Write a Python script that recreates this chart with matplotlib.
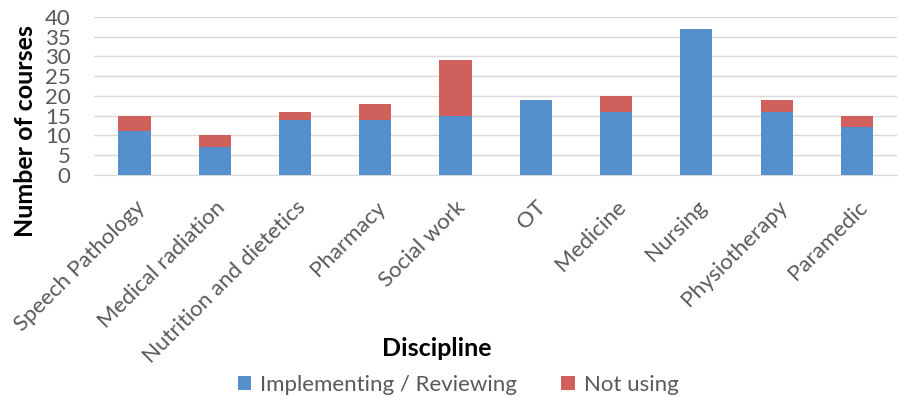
import numpy as np
import matplotlib
matplotlib.use("Agg")
import matplotlib.pyplot as plt

disciplines = ["Speech Pathology", "Medical radiation", "Nutrition and dietetics",
               "Pharmacy", "Social work", "OT", "Medicine", "Nursing",
               "Physiotherapy", "Paramedic"]
implementing = [11, 7, 14, 14, 15, 19, 16, 37, 16, 12]
not_using = [4, 3, 2, 4, 14, 0, 4, 0, 3, 3]
y_ticks = [0, 5, 10, 15, 20, 25, 30, 35, 40]

plt.rcParams["font.family"] = ["Lato", "DejaVu Sans"]

blue = "#5590CD"
red = "#D0605C"
grey = "#595959"

fig = plt.figure(figsize=(9.07, 4.01), dpi=100)
ax = fig.add_axes([0.104, 0.564, 0.885, 0.394])

x = np.arange(len(disciplines))
ax.bar(x, implementing, width=0.4, color=blue, label="Implementing / Reviewing", zorder=3)
ax.bar(x, not_using, width=0.4, bottom=implementing, color=red, label="Not using", zorder=3)

ax.set_xlim(-0.5, len(disciplines) - 0.5)
ax.set_ylim(0, 40)
ax.set_yticks(y_ticks)
ax.tick_params(axis="y", labelsize=16, labelcolor=grey, length=0, pad=17)
ax.set_xticks(x)
ax.set_xticklabels(disciplines, rotation=45, ha="right", rotation_mode="anchor",
                   fontsize=16, color=grey)
ax.tick_params(axis="x", length=0, pad=16)

ax.grid(axis="y", color="#D9D9D9", linewidth=1, zorder=0)
for side in ["top", "right", "left"]:
    ax.spines[side].set_visible(False)
ax.spines["bottom"].set_color("#D9D9D9")

ax.set_ylabel("Number of courses", fontsize=18, fontweight="bold")
ax.yaxis.set_label_coords(-0.071, 0.28)
fig.text(0.482, 0.132, "Discipline", fontsize=18, fontweight="bold", ha="center", va="center")

handles, labels = ax.get_legend_handles_labels()
fig.legend(handles, labels, loc="center", bbox_to_anchor=(0.505, 0.04), ncol=2,
           frameon=False, fontsize=16, labelcolor=grey, handlelength=0.6,
           handleheight=0.6, handletextpad=0.4, columnspacing=2.0)

fig.savefig("out.png", dpi=100)
